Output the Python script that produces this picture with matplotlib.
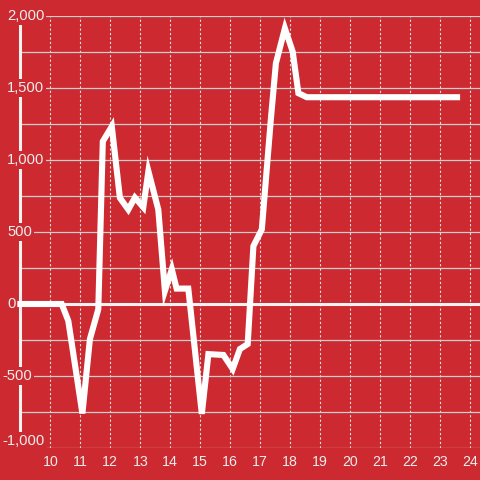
import matplotlib
matplotlib.use("Agg")
import matplotlib.pyplot as plt

# hour of day vs value
hours = [8.9, 10.38, 10.6, 11.07, 11.32, 11.6, 11.75, 12.05, 12.32, 12.6, 12.82,
         13.1, 13.27, 13.6, 13.82, 14.05, 14.21, 14.6, 15.05, 15.27, 15.77, 16.08,
         16.32, 16.58, 16.77, 17.05, 17.35, 17.52, 17.82, 18.08, 18.27, 18.55, 23.66]
values = [0, 0, -117, -760, -244, -36, 1129, 1233, 737, 656, 739,
          672, 922, 656, 91, 241, 107, 107, -763, -348, -354, -451,
          -313, -278, 402, 518, 1279, 1672, 1914, 1752, 1464, 1436, 1436]

x_ticks = list(range(10, 25))
y_labels = [-1000, -500, 0, 500, 1000, 1500, 2000]
y_grid = list(range(-1000, 2001, 250))

bg = '#cc2a30'
plt.rcParams['font.family'] = ['Liberation Sans', 'DejaVu Sans']

fig = plt.figure(figsize=(4.8, 4.8), dpi=100, facecolor=bg)
ax = fig.add_axes([0, 32 / 480, 1, 432 / 480])
ax.set_facecolor(bg)
x0 = 10 - 50.3 / 30
ax.set_xlim(x0, x0 + 16)
ax.set_ylim(-1000, 2000)
for s in ax.spines.values():
    s.set_visible(False)

# grid
ax.vlines(x_ticks, -1000, 2000, colors='#e0e0e0', linewidth=0.8,
          linestyles=(0, (2, 2)), zorder=1)
ax.hlines([g for g in y_grid if g != 0], 9, x0 + 16, colors='#cfcfcf',
          linewidth=0.9, zorder=1)
ax.hlines(0, 9, x0 + 16, colors='#f2f2f2', linewidth=2.2, zorder=2)
ax.vlines(9, -1000, 2000, colors='#f2f2f2', linewidth=2.2, zorder=2)

ax.plot(hours, values, color='white', linewidth=4.4,
        solid_joinstyle='miter', solid_capstyle='butt', zorder=3)

# y labels sitting over the axis line
for v in y_labels:
    px = 7 if v >= 0 else 2.5
    ax.text(x0 + px / 30, v, f"{v:,}", ha='left',
            va='bottom' if v == -1000 else 'center',
            fontsize=10.6, color='#eeeeee', zorder=4, clip_on=False,
            bbox=dict(boxstyle='square,pad=0.12', fc=bg, ec='none'))

ax.set_yticks([])
ax.set_xticks(x_ticks)
ax.set_xticklabels([str(t) for t in x_ticks])
ax.tick_params(axis='x', length=0, pad=5, labelsize=10.2, labelcolor='#eeeeee')

fig.savefig('out.png', dpi=100, facecolor=bg)
